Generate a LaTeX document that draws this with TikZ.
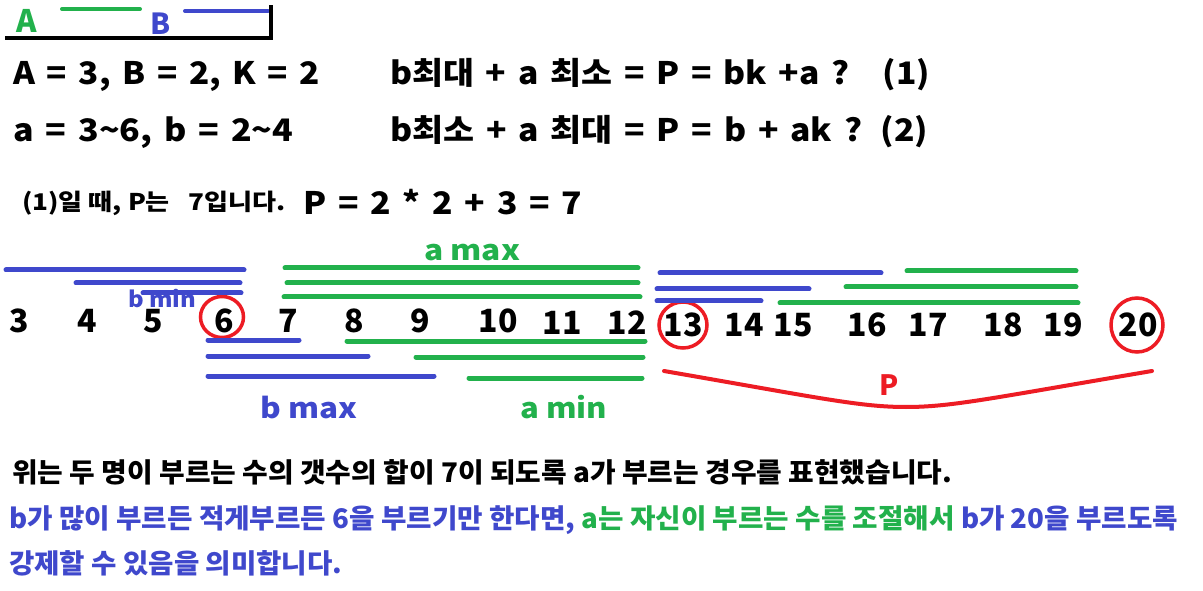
\documentclass[tikz,border=0pt]{standalone}
\usepackage{fontspec}
\usepackage{graphicx}
\setmainfont{Noto Sans CJK KR}
\definecolor{pgreen}{HTML}{22B14C}
\definecolor{pblue}{HTML}{3F48CC}
\definecolor{pred}{HTML}{ED1C24}
\newcommand\fitto[2]{\resizebox{#1bp}{\height}{#2}}
\begin{document}
\begin{tikzpicture}[x=1bp,y=-1bp,
  txt/.style={inner sep=0pt,anchor=base west,font=\bfseries\fontsize{31bp}{36bp}\selectfont},
  small/.style={inner sep=0pt,anchor=base west,font=\bfseries\fontsize{23bp}{27bp}\selectfont},
  lbl/.style={inner sep=0pt,anchor=base west,font=\bfseries\fontsize{28bp}{32bp}\selectfont},
  bot/.style={inner sep=0pt,anchor=base west,font=\bfseries\fontsize{27bp}{31bp}\selectfont},
  num/.style={inner sep=0pt,anchor=base,font=\bfseries\fontsize{32bp}{36bp}\selectfont},
  gbar/.style={pgreen,line width=5bp,line cap=round},
  bbar/.style={pblue,line width=5bp,line cap=round},
  ring/.style={pred,line width=3.5bp}]
\path[use as bounding box,fill=white] (0,0) rectangle (1203,591);
% legend
\node[lbl,pgreen,font=\bfseries\fontsize{31bp}{34bp}\selectfont] (lA) at (16,33) {A};
\node[lbl,pblue,font=\bfseries\fontsize{29bp}{32bp}\selectfont] (lB) at (150,35) {B};
\draw[gbar,line width=4bp] (62,9) -- (140,9);
\draw[bbar,line width=4bp] (185,11) -- (268,11);
\draw[line width=3.5bp] (5,38) -- (271,38) -- (271,5);
% formulas
\node[txt] (t1) at (13,85) {\fitto{307}{A\hspace{0.35em}=\hspace{0.35em}3,\hspace{0.35em}B\hspace{0.35em}=\hspace{0.35em}2,\hspace{0.35em}K\hspace{0.35em}=\hspace{0.35em}2}};
\node[txt] (t2) at (13,142) {\fitto{280}{a\hspace{0.35em}=\hspace{0.35em}3\textasciitilde6,\hspace{0.35em}b\hspace{0.35em}=\hspace{0.35em}2\textasciitilde4}};
\node[txt] (t3) at (390,85) {\fitto{540}{b최대\hspace{0.35em}+\hspace{0.35em}a\hspace{0.35em}최소\hspace{0.35em}=\hspace{0.35em}P\hspace{0.35em}=\hspace{0.35em}bk\hspace{0.35em}+a\hspace{0.35em}?\hspace{1em}(1)}};
\node[txt] (t4) at (390,142) {\fitto{538}{b최소\hspace{0.35em}+\hspace{0.35em}a\hspace{0.35em}최대\hspace{0.35em}=\hspace{0.35em}P\hspace{0.35em}=\hspace{0.35em}b\hspace{0.35em}+\hspace{0.35em}ak\hspace{0.35em}?\hspace{0.55em}(2)}};
\node[small] (t5) at (22,211) {\fitto{263}{(1)일 때, P는\hspace{0.7em}7입니다.}};
\node[txt] (t6) at (303,215) {\fitto{279}{P\hspace{0.35em}=\hspace{0.35em}2\hspace{0.35em}*\hspace{0.35em}2\hspace{0.35em}+\hspace{0.35em}3\hspace{0.35em}=\hspace{0.35em}7}};
% number line
\foreach \n/\x/\y in {3/19/333,4/87/333,5/153/333,6/224/333,7/288/333,8/354/333,9/420/333,10/498/333,
  11/562/335,12/627/335,13/683/337,14/744/337,15/793/337,16/867/337,17/928/337,18/1003/337,19/1063/337,20/1138/337}
  \node[num] (n\n) at (\x,\y) {\n};
\draw[ring] (222,317) ellipse [x radius=21.5, y radius=20.5];
\draw[ring] (683,325) ellipse [x radius=24, y radius=23];
\draw[ring] (1137,325) ellipse [x radius=26, y radius=27];
% bars above
\draw[bbar] (6,270) -- (244,270);
\draw[bbar] (76,283) -- (240,283);
\draw[bbar] (143,293) -- (241,293);
\draw[gbar] (285,268) -- (638,268);
\draw[gbar] (287,283) -- (638,283);
\draw[gbar] (284,297) -- (640,297);
\draw[bbar] (660,273) -- (881,273);
\draw[bbar] (657,289) -- (809,289);
\draw[bbar] (657,301) -- (761,301);
\draw[gbar] (907,271) -- (1076,271);
\draw[gbar] (846,287) -- (1076,287);
\draw[gbar] (780,303) -- (1078,303);
% bars below
\draw[bbar] (208,340) -- (299,340);
\draw[bbar] (208,356) -- (368,356);
\draw[bbar] (208,376) -- (434,376);
\draw[gbar] (347,341) -- (645,341);
\draw[gbar] (416,357) -- (643,357);
\draw[gbar] (469,378) -- (642,378);
% labels
\node[lbl,pgreen] (amax) at (424,261) {\fitto{96}{a max}};
\node[lbl,pblue,font=\bfseries\fontsize{22bp}{26bp}\selectfont] (bmin) at (128,308) {\fitto{68}{b min}};
\node[lbl,pblue] (bmax) at (260,418) {\fitto{97}{b max}};
\node[lbl,pgreen] (amin) at (520,418) {\fitto{87}{a min}};
% P brace
\draw[pred,line width=4bp,line cap=round] (664,371) .. controls (820,398) and (860,407) .. (906,407) .. controls (952,407) and (992,398) .. (1152,371);
\node[lbl,pred] (P) at (879,395) {P};
% bottom text
\node[bot] (s1) at (12,482) {\fitto{940}{위는 두 명이 부르는 수의 갯수의 합이 7이 되도록 a가 부르는 경우를 표현했습니다.}};
\node[bot] (s2) at (9,528) {\fitto{1169}{\color{pblue}b가 많이 부르든 적게부르든 6을 부르기만 한다면, \color{pgreen}a는 자신이 부르는 수를 조절해서 \color{pblue}b가 20을 부르도록}};
\node[bot,pblue] (s3) at (9,573) {\fitto{333}{강제할 수 있음을 의미합니다.}};
\end{tikzpicture}
\end{document}
